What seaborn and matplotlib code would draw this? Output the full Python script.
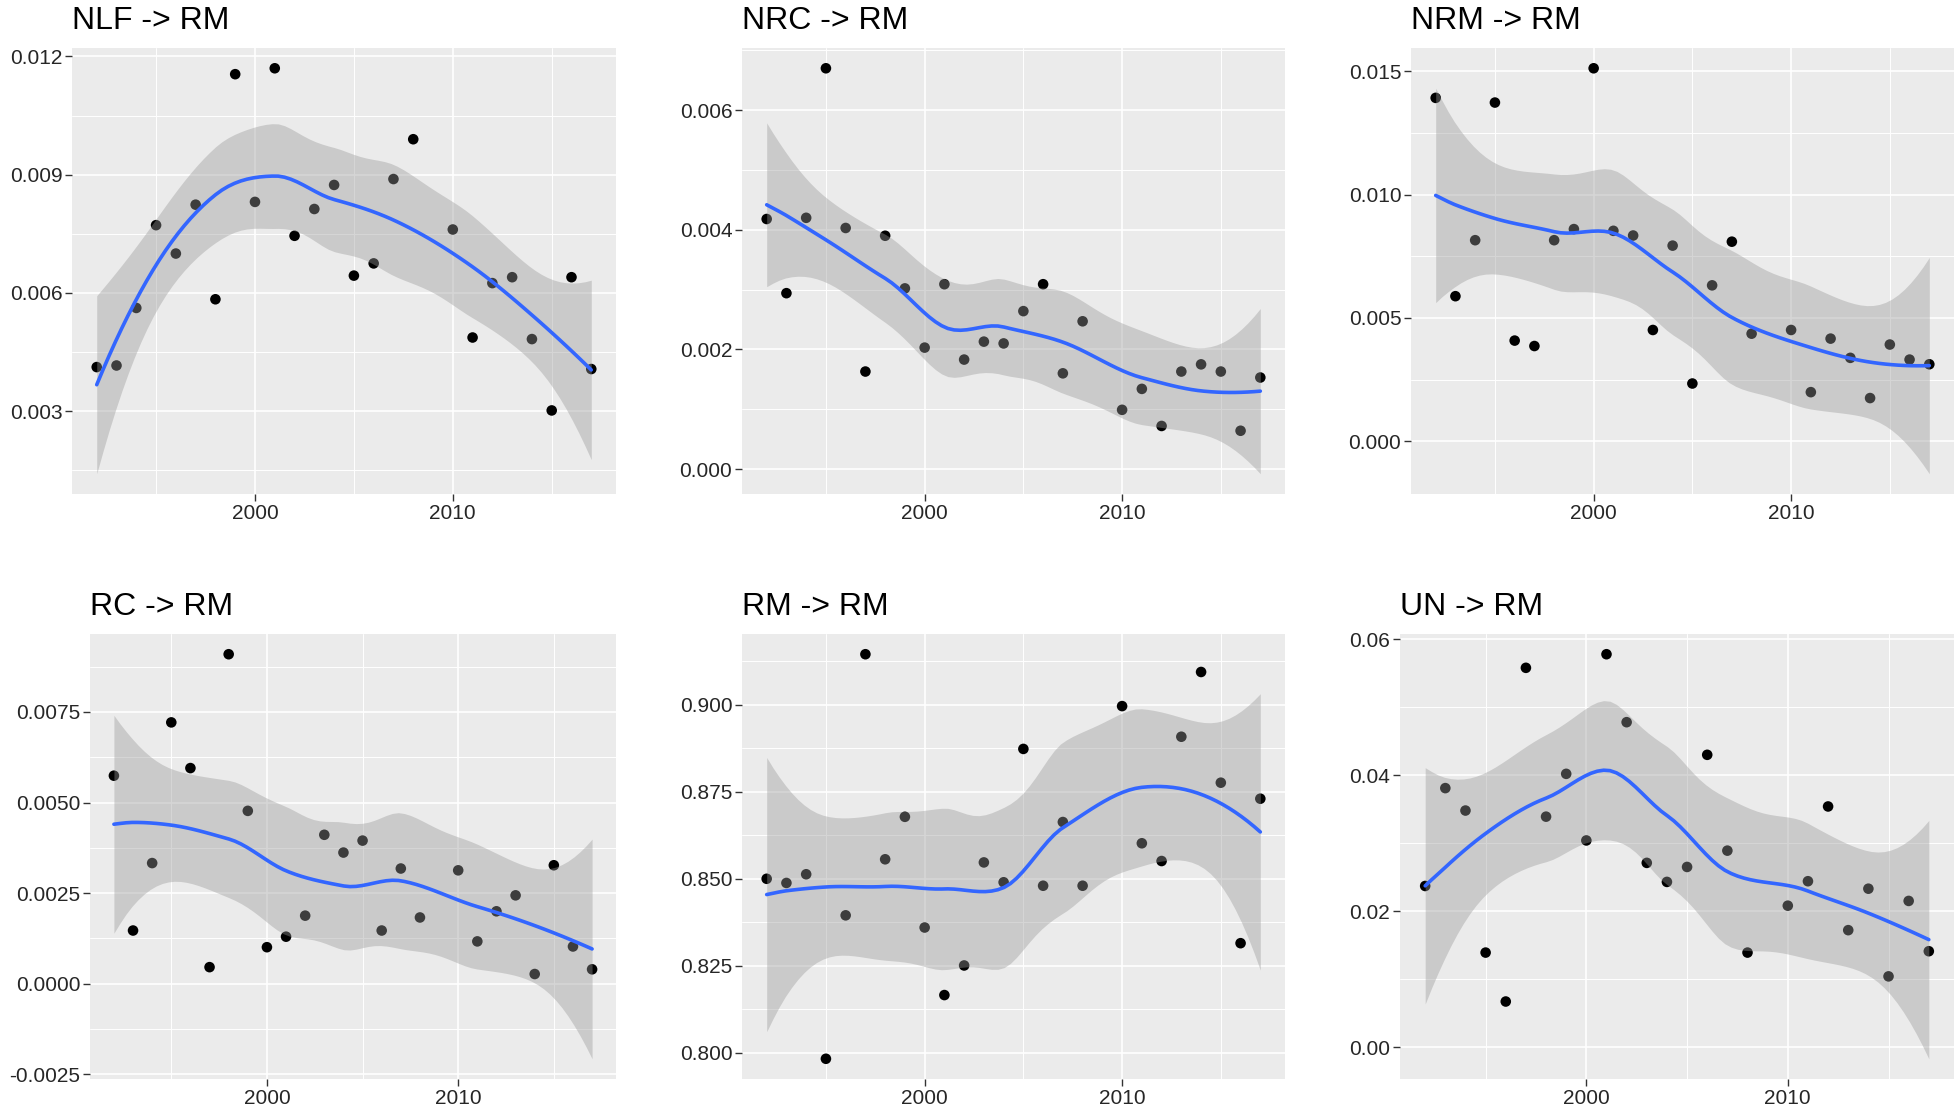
import matplotlib
matplotlib.use("Agg")
import matplotlib.pyplot as plt
from matplotlib.ticker import FixedLocator, FuncFormatter
import numpy as np
import pandas as pd
import seaborn as sns


# data (2009 is missing in every panel)
years = [1992, 1993, 1994, 1995, 1996, 1997, 1998, 1999, 2000, 2001, 2002, 2003,
         2004, 2005, 2006, 2007, 2008, 2010, 2011, 2012, 2013, 2014, 2015, 2016, 2017]

nlf_rm = [0.00412, 0.00416, 0.00562, 0.00772, 0.00700, 0.00824, 0.00584, 0.01155,
          0.00831, 0.01170, 0.00745, 0.00813, 0.00874, 0.00644, 0.00675, 0.00889,
          0.00990, 0.00761, 0.00487, 0.00625, 0.00640, 0.00483, 0.00302, 0.00640, 0.00407]
nrc_rm = [0.00418, 0.00294, 0.00420, 0.00670, 0.00403, 0.00163, 0.00390, 0.00302,
          0.00203, 0.00309, 0.00183, 0.00213, 0.00210, 0.00264, 0.00309, 0.00160,
          0.00247, 0.00099, 0.00134, 0.00072, 0.00163, 0.00175, 0.00163, 0.00064, 0.00153]
nrm_rm = [0.01392, 0.00588, 0.00815, 0.01373, 0.00408, 0.00386, 0.00815, 0.00860,
          0.01512, 0.00853, 0.00834, 0.00451, 0.00793, 0.00234, 0.00632, 0.00809,
          0.00436, 0.00451, 0.00199, 0.00416, 0.00338, 0.00175, 0.00392, 0.00331, 0.00312]
rc_rm = [0.00574, 0.00147, 0.00333, 0.00721, 0.00595, 0.00046, 0.00909, 0.00477,
         0.00101, 0.00130, 0.00188, 0.00411, 0.00362, 0.00395, 0.00147, 0.00318,
         0.00183, 0.00313, 0.00117, 0.00200, 0.00244, 0.00027, 0.00327, 0.00103, 0.00040]
rm_rm = [0.8500, 0.8488, 0.8513, 0.7983, 0.8395, 0.9145, 0.8556, 0.8678, 0.8360,
         0.8166, 0.8251, 0.8547, 0.8490, 0.8873, 0.8480, 0.8663, 0.8480, 0.8996,
         0.8602, 0.8551, 0.8908, 0.9094, 0.8776, 0.8315, 0.8730]
un_rm = [0.0237, 0.0381, 0.0348, 0.0139, 0.0067, 0.0558, 0.0339, 0.0402, 0.0304,
         0.0578, 0.0478, 0.0271, 0.0243, 0.0265, 0.0430, 0.0289, 0.0139, 0.0208,
         0.0244, 0.0354, 0.0172, 0.0233, 0.0104, 0.0215, 0.0141]

titles = ["NLF -> RM", "NRC -> RM", "NRM -> RM", "RC -> RM", "RM -> RM", "UN -> RM"]

nlf_ticks = [0.003, 0.006, 0.009, 0.012]
nrc_ticks = [0.000, 0.002, 0.004, 0.006]
nrm_ticks = [0.000, 0.005, 0.010, 0.015]
rc_ticks = [-0.0025, 0.0000, 0.0025, 0.0050, 0.0075]
rm_ticks = [0.800, 0.825, 0.850, 0.875, 0.900]
un_ticks = [0.00, 0.02, 0.04, 0.06]
tick_decimals = [3, 3, 3, 4, 3, 2]
x_ticks = [2000, 2010]
x_minor = [1995, 2005, 2015]


# loess like R's default: span 0.75, degree 2, kd-tree vertices + cubic
# interpolation, 95% band from the t distribution
def local_rows(x, x0, q):
    n = len(x)
    d = np.abs(x - x0)
    h = np.sort(d)[q - 1]
    w = np.clip(1 - (d / h) ** 3, 0, None) ** 3
    X = np.column_stack([np.ones(n), x - x0, (x - x0) ** 2])
    XtW = X.T * w
    B = np.linalg.solve(XtW @ X, XtW)
    return B[0], B[1]


def kd_vertices(x, fc):
    xs = np.sort(x)
    mu = 0.005 * (xs[-1] - xs[0])
    verts = [xs[0] - mu, xs[-1] + mu]

    def split(l, u):  # 1-based inclusive, as in the fortran
        if u - l + 1 <= fc:
            return
        m = (l + u) // 2
        verts.append(xs[m - 1])
        split(l, m)
        split(m + 1, u)

    split(1, len(xs))
    return np.array(sorted(set(verts)))


def loess_operator(x, pts, span=0.75, cell=0.2):
    n = len(x)
    q = int(np.floor(n * span))
    fc = int(np.floor(n * span * cell))
    verts = kd_vertices(x, fc)
    vals, slopes = [], []
    for v in verts:
        a, s = local_rows(x, v, q)
        vals.append(a)
        slopes.append(s)
    rows = []
    for p in pts:
        j = int(np.searchsorted(verts, p, side="right") - 1)
        j = min(max(j, 0), len(verts) - 2)
        h = verts[j + 1] - verts[j]
        u = (p - verts[j]) / h
        phi0 = (1 - u) ** 2 * (1 + 2 * u)
        phi1 = u ** 2 * (3 - 2 * u)
        psi0 = u * (1 - u) ** 2
        psi1 = -u ** 2 * (1 - u)
        rows.append(phi0 * vals[j] + phi1 * vals[j + 1]
                    + h * (psi0 * slopes[j] + psi1 * slopes[j + 1]))
    return np.array(rows)


def t975(df):
    z = 1.959964
    g1 = (z**3 + z) / 4
    g2 = (5 * z**5 + 16 * z**3 + 3 * z) / 96
    g3 = (3 * z**7 + 19 * z**5 + 17 * z**3 - 15 * z) / 384
    return z + g1 / df + g2 / df**2 + g3 / df**3


def smooth(x, y):
    x = np.asarray(x, float)
    y = np.asarray(y, float)
    n = len(x)
    L = loess_operator(x, x)
    R = np.eye(n) - L
    M = R.T @ R
    d1 = np.trace(M)
    d2 = np.trace(M @ M)
    sigma = np.sqrt(np.sum((R @ y) ** 2) / d1)
    grid = np.linspace(x.min(), x.max(), 80)
    G = loess_operator(x, grid)
    fit = G @ y
    se = sigma * np.sqrt(np.sum(G**2, axis=1))
    t = t975(d1**2 / d2)
    return grid, fit, fit - t * se, fit + t * se


sns.set_theme(style="darkgrid", rc={
    "axes.facecolor": "#EBEBEB",
    "grid.color": "white",
    "axes.edgecolor": "#EBEBEB",
    "figure.facecolor": "white",
})
plt.rcParams["font.family"] = ["Liberation Sans", "DejaVu Sans"]

W, H = 1960, 1118
fig = plt.figure(figsize=(W / 100, H / 100), dpi=100)

# panel boxes in pixels: left, top, right, bottom
boxes = [(72, 48, 616, 494), (742, 48, 1285, 494), (1411, 48, 1954, 494),
         (90, 634, 616, 1079), (742, 634, 1285, 1079), (1400, 634, 1954, 1079)]

series = [nlf_rm, nrc_rm, nrm_rm, rc_rm, rm_rm, un_rm]
tick_sets = [nlf_ticks, nrc_ticks, nrm_ticks, rc_ticks, rm_ticks, un_ticks]

for i in range(6):
    l, t, r, b = boxes[i]
    ax = fig.add_axes([l / W, 1 - b / H, (r - l) / W, (b - t) / H])
    df = pd.DataFrame({"year": years, "value": series[i]})
    grid, fit, lo, hi = smooth(df["year"], df["value"])

    sns.scatterplot(data=df, x="year", y="value", ax=ax, color="black",
                    s=58, edgecolor="none", zorder=2)
    ax.fill_between(grid, lo, hi, color="#999999", alpha=0.4, lw=0, zorder=3)
    sns.lineplot(x=grid, y=fit, ax=ax, color="#3366FF", lw=2.6, zorder=4,
                 estimator=None)

    ymin = min(df["value"].min(), lo.min())
    ymax = max(df["value"].max(), hi.max())
    pad = (ymax - ymin) * 0.05
    ax.set_ylim(ymin - pad, ymax + pad)
    xpad = (max(years) - min(years)) * 0.05
    ax.set_xlim(min(years) - xpad, max(years) + xpad)

    ticks = tick_sets[i]
    step = ticks[1] - ticks[0]
    minors = [v + step / 2 for v in ticks] + [ticks[0] - step / 2]
    ax.yaxis.set_major_locator(FixedLocator(ticks))
    ax.yaxis.set_minor_locator(FixedLocator(minors))
    dec = tick_decimals[i]
    ax.yaxis.set_major_formatter(FuncFormatter(lambda v, p, d=dec: f"{v:.{d}f}"))
    ax.xaxis.set_major_locator(FixedLocator(x_ticks))
    ax.xaxis.set_minor_locator(FixedLocator(x_minor))

    ax.grid(which="major", color="white", lw=1.2)
    ax.grid(which="minor", color="white", lw=0.7)
    ax.tick_params(which="major", length=5, width=1.0, color="#333333",
                   labelsize=15, labelcolor="#262626", pad=2, left=True, bottom=True)
    ax.tick_params(which="minor", length=0)
    for s in ax.spines.values():
        s.set_visible(False)
    ax.set_xlabel("")
    ax.set_ylabel("")
    ax.set_title(titles[i], loc="left", fontsize=23, pad=14, color="black")

fig.savefig("out.png", dpi=100)
